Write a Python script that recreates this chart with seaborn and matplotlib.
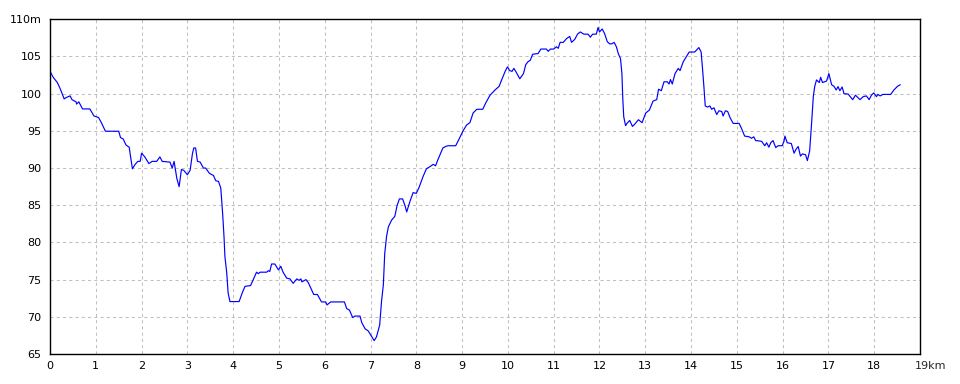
import numpy as np
import pandas as pd
import matplotlib
matplotlib.use("Agg")
import matplotlib.pyplot as plt
import seaborn as sns

# distance (km) along route
dist_km = [
    0.00, 0.07, 0.16, 0.22, 0.31, 0.36, 0.44, 0.48, 0.57, 0.58, 0.63, 0.71, 0.87, 0.96, 1.06, 1.13,
    1.21, 1.50, 1.54, 1.60, 1.66, 1.73, 1.76, 1.80, 1.86, 1.92, 1.97, 2.00, 2.07, 2.16, 2.23, 2.33,
    2.40, 2.45, 2.62, 2.67, 2.71, 2.77, 2.82, 2.87, 2.92, 3.00, 3.06, 3.11, 3.14, 3.18, 3.22, 3.28,
    3.35, 3.40, 3.48, 3.57, 3.62, 3.68, 3.73, 3.77, 3.80, 3.82, 3.86, 3.89, 3.93, 4.13, 4.21, 4.26,
    4.38, 4.44, 4.51, 4.55, 4.59, 4.73, 4.77, 4.80, 4.84, 4.91, 4.99, 5.04, 5.09, 5.17, 5.24, 5.31,
    5.39, 5.44, 5.48, 5.50, 5.59, 5.64, 5.76, 5.84, 5.93, 6.02, 6.05, 6.13, 6.43, 6.48, 6.54, 6.61,
    6.66, 6.77, 6.81, 6.88, 6.95, 7.00, 7.08, 7.13, 7.20, 7.24, 7.28, 7.31, 7.35, 7.39, 7.46, 7.53,
    7.58, 7.63, 7.70, 7.75, 7.79, 7.86, 7.93, 8.00, 8.06, 8.15, 8.22, 8.30, 8.37, 8.42, 8.47, 8.58,
    8.64, 8.69, 8.86, 8.95, 9.02, 9.10, 9.17, 9.24, 9.32, 9.45, 9.52, 9.61, 9.72, 9.81, 9.86, 9.94,
    9.99, 10.04, 10.09, 10.13, 10.19, 10.26, 10.34, 10.39, 10.44, 10.49, 10.54, 10.66, 10.72, 10.84,
    10.88, 10.93, 11.00, 11.06, 11.10, 11.14, 11.21, 11.28, 11.35, 11.39, 11.46, 11.52, 11.58, 11.66,
    11.75, 11.80, 11.85, 11.93, 11.97, 12.00, 12.06, 12.11, 12.17, 12.22, 12.27, 12.32, 12.37, 12.41,
    12.46, 12.49, 12.51, 12.53, 12.57, 12.60, 12.66, 12.72, 12.77, 12.85, 12.93, 13.01, 13.09, 13.17,
    13.25, 13.29, 13.35, 13.41, 13.48, 13.52, 13.55, 13.59, 13.65, 13.72, 13.76, 13.83, 13.90, 13.96,
    14.08, 14.14, 14.17, 14.22, 14.25, 14.28, 14.31, 14.36, 14.41, 14.45, 14.50, 14.56, 14.61, 14.67,
    14.70, 14.75, 14.80, 14.85, 14.92, 15.05, 15.10, 15.17, 15.27, 15.32, 15.37, 15.41, 15.54, 15.61,
    15.65, 15.70, 15.74, 15.79, 15.85, 15.90, 15.99, 16.03, 16.05, 16.10, 16.19, 16.25, 16.29, 16.34,
    16.39, 16.43, 16.50, 16.54, 16.59, 16.63, 16.67, 16.70, 16.74, 16.80, 16.83, 16.87, 16.96, 17.01,
    17.07, 17.12, 17.17, 17.21, 17.25, 17.30, 17.34, 17.43, 17.53, 17.59, 17.69, 17.76, 17.83, 17.89,
    17.94, 17.99, 18.05, 18.08, 18.13, 18.19, 18.36, 18.43, 18.51, 18.57,
]

# elevation (m)
elev_m = [
    103.0, 102.2, 101.5, 100.7, 99.3, 99.5, 99.7, 99.2, 98.9, 98.6, 98.9, 97.95, 97.95, 97.0, 96.8, 96.0,
    94.95, 94.95, 94.1, 93.9, 93.1, 92.8, 91.5, 89.9, 90.5, 90.9, 90.9, 92.0, 91.5, 90.6, 90.9, 90.9,
    91.5, 90.9, 90.8, 90.0, 90.9, 88.6, 87.5, 89.8, 89.7, 89.1, 89.7, 91.9, 92.7, 92.7, 90.9, 90.8,
    90.0, 90.0, 89.3, 89.0, 88.3, 88.2, 87.3, 83.9, 80.8, 78.1, 75.9, 73.2, 72.05, 72.05, 73.4, 74.1,
    74.2, 75.0, 76.0, 75.8, 76.0, 76.0, 76.2, 76.1, 77.1, 77.1, 76.3, 76.8, 76.0, 75.2, 75.1, 74.5,
    75.1, 74.9, 75.1, 74.7, 75.0, 74.6, 73.0, 73.0, 72.0, 72.0, 71.6, 72.0, 72.0, 71.1, 70.9, 69.9,
    70.1, 70.1, 69.2, 68.4, 68.1, 67.6, 66.8, 67.3, 68.9, 72.05, 74.3, 78.5, 80.8, 82.1, 83.0, 83.5,
    84.95, 85.85, 85.85, 85.0, 84.1, 85.5, 86.7, 86.6, 87.4, 88.9, 89.9, 90.2, 90.5, 90.3, 91.1, 92.7,
    92.9, 93.0, 93.0, 94.1, 95.0, 95.8, 96.1, 97.4, 97.9, 97.9, 98.8, 99.8, 100.5, 101.0, 101.8, 103.0,
    103.6, 103.1, 103.0, 103.4, 102.8, 102.0, 102.7, 103.9, 104.3, 104.5, 105.3, 105.4, 106.0, 106.0,
    105.7, 106.0, 106.0, 106.3, 106.1, 106.9, 106.9, 107.4, 107.7, 106.9, 107.3, 108.0, 108.3, 108.0,
    108.0, 107.6, 108.0, 108.0, 108.9, 108.3, 108.7, 108.1, 107.0, 106.7, 106.7, 106.9, 106.3, 105.4,
    104.7, 102.7, 99.2, 96.9, 95.7, 96.0, 96.4, 95.6, 95.9, 96.5, 96.1, 97.4, 97.8, 99.0,
    99.2, 100.6, 100.4, 101.6, 101.6, 101.3, 101.9, 101.3, 102.7, 103.4, 103.1, 104.3, 105.0, 105.6,
    105.6, 106.0, 106.2, 105.6, 103.4, 101.0, 98.35, 98.2, 98.35, 97.9, 98.1, 97.2, 97.7, 97.6,
    97.0, 97.7, 97.6, 96.8, 96.0, 96.0, 95.35, 94.3, 94.2, 94.0, 94.2, 93.7, 93.6, 93.0,
    93.4, 92.8, 93.4, 93.7, 92.75, 93.0, 93.0, 93.6, 94.3, 93.4, 93.3, 92.0, 92.5, 92.9,
    91.6, 91.9, 91.8, 91.0, 92.3, 95.8, 99.6, 100.95, 101.85, 101.5, 102.2, 101.5, 101.7, 102.7,
    101.2, 101.0, 100.5, 100.95, 100.4, 100.9, 100.0, 99.95, 99.2, 99.8, 99.2, 99.6, 99.7, 99.2,
    99.8, 100.1, 99.6, 99.9, 99.7, 99.9, 99.9, 100.5, 101.0, 101.2,
]

x_ticks = list(range(0, 20))
x_tick_labels = [str(v) for v in range(0, 19)] + [""]
y_ticks = list(range(65, 111, 5))
y_tick_labels = [str(v) for v in range(65, 110, 5)] + ["110m"]

sns.set_style("white")
plt.rcParams["font.family"] = ["DejaVu Sans"]

fig = plt.figure(figsize=(9.6, 3.84), dpi=100)
ax = fig.add_axes([50 / 960, 30 / 384, 870 / 960, 334.7 / 384])

df = pd.DataFrame({"km": dist_km, "m": elev_m})
sns.lineplot(data=df, x="km", y="m", ax=ax, color="#0000ff", linewidth=0.85,
             sort=False, estimator=None)

ax.set_xlim(0, 19)
ax.set_ylim(65, 110)
ax.set_xticks(x_ticks)
ax.set_xticklabels(x_tick_labels, fontsize=8)
ax.set_yticks(y_ticks)
ax.set_yticklabels(y_tick_labels, fontsize=8)
ax.set_xlabel("")
ax.set_ylabel("")
ax.tick_params(axis="both", length=0, colors="black")
ax.tick_params(axis="x", pad=5)
ax.tick_params(axis="y", pad=6)

ax.grid(True, color="#c0c0c0", linestyle=(0, (3, 3)), linewidth=0.75)
ax.set_axisbelow(True)
for s in ax.spines.values():
    s.set_visible(True)
    s.set_color("black")
    s.set_linewidth(1.0)

ax.annotate("19km", xy=(19, 65), xycoords="data", xytext=(-4, -5),
            textcoords="offset points", ha="left", va="top", fontsize=8)

fig.savefig("out.png", dpi=100, facecolor="white")
